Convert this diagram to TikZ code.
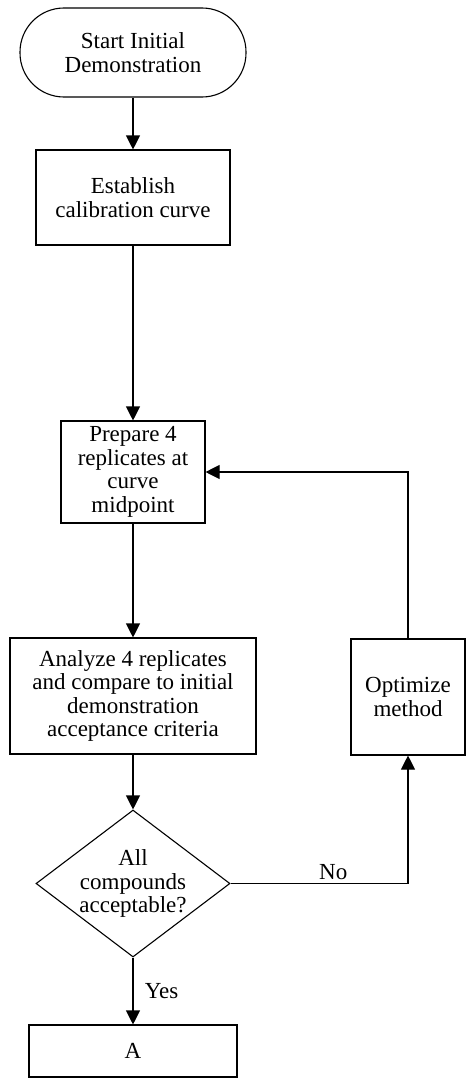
\documentclass[tikz,border=0pt]{standalone}
\usepackage{fontspec}
\setmainfont{Liberation Serif}
\usetikzlibrary{arrows.meta,shapes.geometric}
\begin{document}
\begin{tikzpicture}[x=1pt,y=-1pt,
  every node/.style={font=\fontsize{23}{23.5}\selectfont, align=center},
  box/.style={draw, line width=1.1pt, rectangle, inner sep=0pt},
  terminal/.style={box, rounded corners=44pt},
  decision/.style={draw, line width=1.1pt, diamond, inner sep=0pt},
  flow/.style={line width=1.1pt, -{Triangle[length=14pt,width=14pt]}},
]
\useasboundingbox (0,0) rectangle (466,1084);

% main column
\node[terminal, minimum width=226pt, minimum height=89pt] (start) at (133,52.5) {Start Initial\\Demonstration};
\node[box, minimum width=194pt, minimum height=95pt] (est) at (133,197.5) {Establish\\calibration curve};
\node[box, minimum width=144pt, minimum height=102pt] (prep) at (133,472) {Prepare 4\\replicates at\\curve\\midpoint};
\node[box, minimum width=246pt, minimum height=116pt] (ana) at (133,696) {Analyze 4 replicates\\and compare to initial\\demonstration\\acceptance criteria};
\node[decision, minimum width=194pt, minimum height=147pt] (dec) at (133,883.5) {};
\node (dectext) at (dec) {All\\compounds\\acceptable?};
\node[box, minimum width=208pt, minimum height=52pt] (a) at (133,1051) {A};

% loop-back box
\node[box, minimum width=114pt, minimum height=116pt] (opt) at (408,697) {Optimize\\method};

% connectors
\draw[flow] (start) -- (est);
\draw[flow] (est) -- (prep);
\draw[flow] (prep) -- (ana);
\draw[flow] (ana) -- (dec);
\draw[flow] (dec) -- node[right, xshift=8pt] (yes) {Yes} (a);
\draw[flow] (dec.east) -- node[above, pos=0.5, xshift=14pt] (no) {No} (dec.east -| opt.south) -- (opt.south);
\draw[flow] (opt.north) -- (opt.north |- prep.east) -- (prep.east);
\end{tikzpicture}
\end{document}
